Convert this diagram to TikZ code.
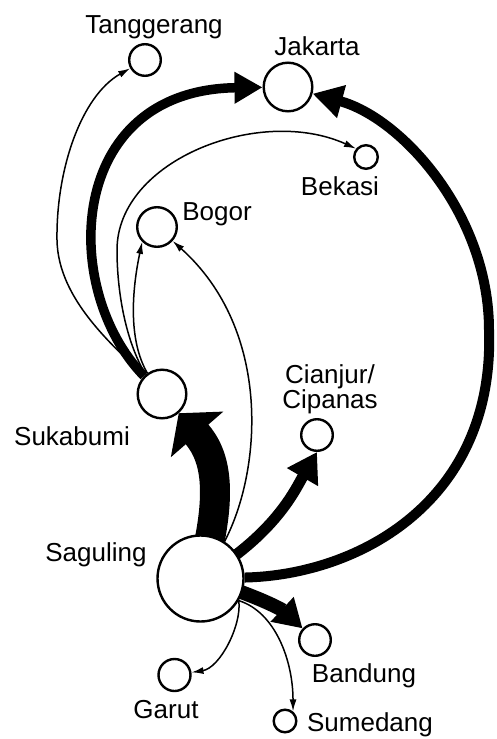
\documentclass[tikz,border=0pt]{standalone}
\usepackage{fontspec}
\setmainfont{Liberation Sans}
\usetikzlibrary{arrows.meta}
\pgfdeclarelayer{edges}
\pgfsetlayers{edges,main}
\begin{document}
\begin{tikzpicture}[x=1pt,y=-1pt,
  city/.style={circle,draw=black,line width=2.4pt,fill=white,inner sep=0pt},
  lbl/.style={font=\fontsize{26}{25}\selectfont,inner sep=0pt,anchor=base},
  flow/.style={line width=1.5pt,-{Latex[length=12pt,width=7pt]}},
]
\useasboundingbox (0,0) rectangle (497,739);
% towns
\node[city,minimum size=31.6pt] (tan) at (145,60) {};
\node[city,minimum size=48.6pt] (jak) at (288,87) {};
\node[city,minimum size=23.6pt] (bek) at (366,157) {};
\node[city,minimum size=39.6pt] (bog) at (157,227) {};
\node[city,minimum size=48.6pt] (suk) at (162,394) {};
\node[city,minimum size=31.6pt] (cia) at (317,435) {};
\node[city,minimum size=86pt] (sag) at (200.5,578.5) {};
\node[city,minimum size=32pt] (gar) at (174.5,675) {};
\node[city,minimum size=31.6pt] (ban) at (315,640) {};
\node[city,minimum size=22.6pt] (sum) at (285,721) {};
% labels
\node[lbl] (tanl) at (154,33) {Tanggerang};
\node[lbl] (jakl) at (317,55) {Jakarta};
\node[lbl] (bekl) at (340,195) {Bekasi};
\node[lbl] (bogl) at (217,220) {Bogor};
\node[lbl] (sukl) at (72,445) {Sukabumi};
\node[lbl,anchor=center,align=center] (cial) at (330,389) {Cianjur/\\Cipanas};
\node[lbl] (sagl) at (96,561) {Saguling};
\node[lbl] (garl) at (166,718) {Garut};
\node[lbl] (banl) at (364,682) {Bandung};
\node[lbl] (suml) at (370,731) {Sumedang};
\begin{pgfonlayer}{edges}
% thin flows
\draw[flow] (suk.135) .. controls (115,347) and (58,300) .. (57,240) .. controls (56,170) and (81,96) .. (tan);
\draw[flow] (suk.130) .. controls (125,340) and (117,290) .. (117,250) .. controls (117,160) and (260,105) .. (bek.140);
\draw[flow] (suk.125) .. controls (128,340) and (132,290) .. (bog.225);
\draw[flow] (sag.57) .. controls (262,470) and (272,330) .. (bog);
\draw[flow] (sag.-30) .. controls (242,625) and (220,668) .. (gar);
\draw[flow] (sag.-30) .. controls (275,612) and (293,660) .. (sum.50);
% heavy flows
\draw[line width=9.5pt,-{Triangle[length=28pt,width=30pt]}] (suk.135) .. controls (60,290) and (65,90) .. (jak);
\draw[line width=10pt,-{Triangle[length=30pt,width=32pt]}] (sag) .. controls (360,575) and (495,500) .. (489,330) .. controls (489,215) and (402,118) .. (jak);
\draw[line width=30pt,-{Triangle[length=28pt,width=68pt]}] (sag.center) .. controls (225,490) and (215,455) .. (suk);
\draw[line width=11pt,-{Triangle[length=29pt,width=34pt]}] (sag.center) .. controls (275,535) and (295,490) .. (cia.south);
\draw[line width=14pt,-{Triangle[length=28pt,width=32pt]}] (sag.center) .. controls (265,598) and (285,612) .. (ban);
\end{pgfonlayer}
\end{tikzpicture}
\end{document}
